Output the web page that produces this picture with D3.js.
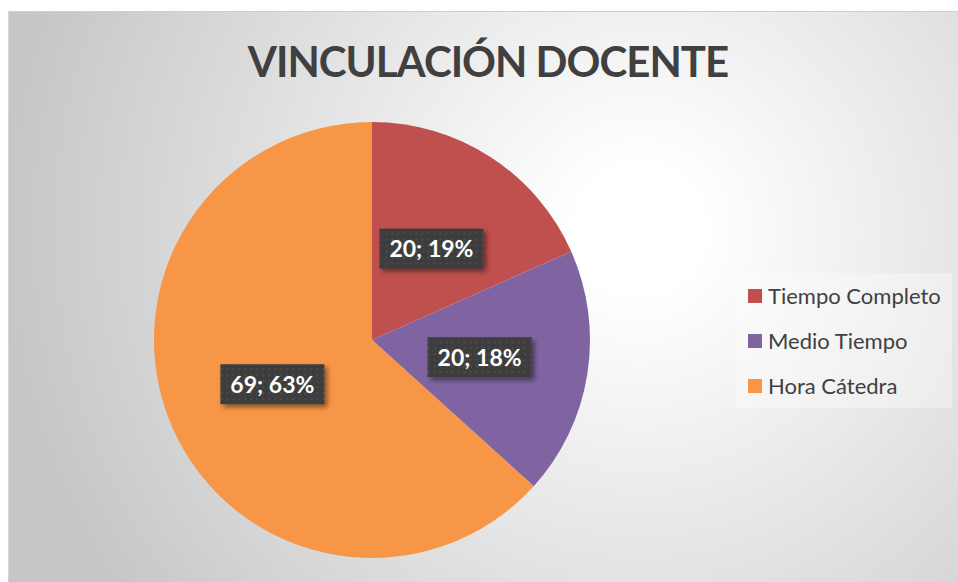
<!DOCTYPE html>
<html><head><meta charset="utf-8">
<script src="https://cdn.jsdelivr.net/npm/d3@7"></script>
<style>html,body{margin:0;padding:0;background:#fff;overflow:hidden}</style>
</head><body>
<svg id="chart" width="958" height="582"></svg>
<script>
const title = "VINCULACIÓN DOCENTE";
const categories = ["Tiempo Completo", "Medio Tiempo", "Hora Cátedra"];
const values = [20, 20, 69];
const percentLabels = ["19%", "18%", "63%"];
const colors = ["#C0504D", "#8064A2", "#F79646"];

const svg = d3.select("#chart");
const defs = svg.append("defs");

const bg = defs.append("radialGradient").attr("id", "bg")
  .attr("gradientUnits", "userSpaceOnUse")
  .attr("cx", 640).attr("cy", 230).attr("r", 640);
bg.append("stop").attr("offset", 0.1).attr("stop-color", "#ffffff");
bg.append("stop").attr("offset", 1).attr("stop-color", "#c6c6c6");

const pat = defs.append("pattern").attr("id", "dots")
  .attr("patternUnits", "userSpaceOnUse").attr("width", 6).attr("height", 6);
pat.append("rect").attr("width", 6).attr("height", 6).attr("fill", "#3d3d3d");
pat.append("rect").attr("x", 2).attr("y", 2).attr("width", 2).attr("height", 2).attr("fill", "#4c4c4c");

const sh = defs.append("filter").attr("id", "shadow").attr("x", "-20%").attr("y", "-30%").attr("width", "150%").attr("height", "180%");
sh.append("feDropShadow").attr("dx", 3).attr("dy", 3).attr("stdDeviation", 2.5)
  .attr("flood-color", "#000").attr("flood-opacity", 0.45);

// chart area
svg.append("rect").attr("x", 8).attr("y", 11).attr("width", 958 - 8).attr("height", 582 - 11)
  .attr("fill", "url(#bg)");
svg.append("line").attr("x1", 8).attr("x2", 958).attr("y1", 11.5).attr("y2", 11.5)
  .attr("stroke", "#cfcfcf").attr("stroke-width", 1);
svg.append("line").attr("x1", 8.5).attr("x2", 8.5).attr("y1", 11).attr("y2", 582)
  .attr("stroke", "#d4d4d4").attr("stroke-width", 1);

svg.append("text").attr("x", 488).attr("y", 77)
  .attr("text-anchor", "middle")
  .attr("font-family", "Lato, 'Open Sans', sans-serif")
  .attr("font-weight", "bold").attr("font-size", 42)
  .attr("letter-spacing", -1)
  .attr("fill", "#404040")
  .text(title);

const cx = 372, cy = 340, r = 218;
const pie = d3.pie().sort(null).value(d => d);
const arcs = pie(values);
const arc = d3.arc().innerRadius(0).outerRadius(r);
const labelArc = d3.arc().innerRadius(r * 0.5).outerRadius(r * 0.5);

const g = svg.append("g").attr("transform", `translate(${cx},${cy})`);
g.selectAll("path.slice").data(arcs).enter().append("path")
  .attr("class", "slice")
  .attr("d", arc)
  .attr("fill", (d, i) => colors[i]);

const lab = g.selectAll("g.lab").data(arcs).enter().append("g")
  .attr("class", "lab")
  .attr("transform", d => { const c = labelArc.centroid(d); return `translate(${c[0]},${c[1]})`; });
lab.append("rect").attr("x", -52).attr("y", -20).attr("width", 104).attr("height", 40)
  .attr("fill", "url(#dots)").attr("filter", "url(#shadow)");
lab.append("text").attr("text-anchor", "middle").attr("y", 8.5)
  .attr("font-family", "Lato, 'Open Sans', sans-serif")
  .attr("font-weight", "bold").attr("font-size", 23)
  .attr("fill", "#ffffff")
  .text((d, i) => `${values[i]}; ${percentLabels[i]}`);

// legend
const lg = svg.append("g");
lg.append("rect").attr("x", 736).attr("y", 273).attr("width", 216).attr("height", 135)
  .attr("fill", "#ffffff").attr("fill-opacity", 0.35);
const rows = lg.selectAll("g.row").data(categories).enter().append("g")
  .attr("class", "row")
  .attr("transform", (d, i) => `translate(748,${289 + i * 45})`);
rows.append("rect").attr("width", 14).attr("height", 14).attr("fill", (d, i) => colors[i]);
rows.append("text").attr("x", 20).attr("y", 15)
  .attr("font-family", "Lato, 'Open Sans', sans-serif")
  .attr("font-size", 22).attr("fill", "#404040")
  .text(d => d);
</script>
</body></html>
